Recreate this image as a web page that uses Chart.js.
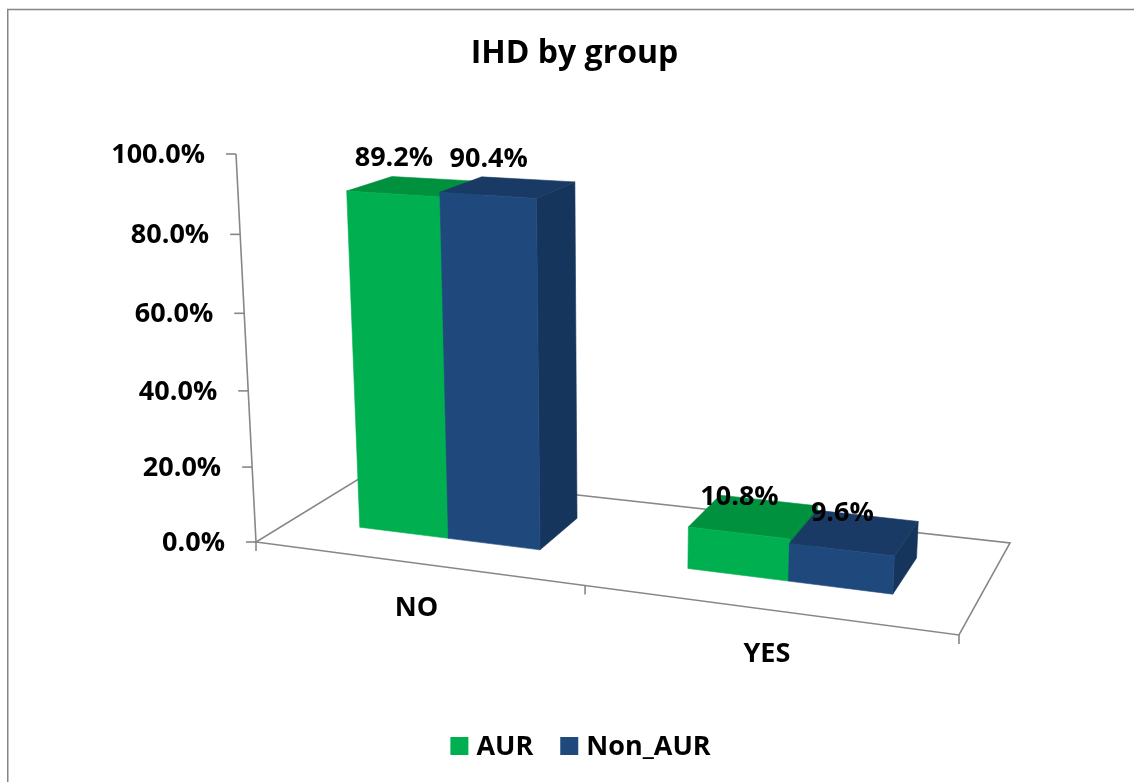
<!DOCTYPE html>
<html>
<head>
<meta charset="utf-8">
<title>IHD by group</title>
<script src="https://cdn.jsdelivr.net/npm/chart.js@4.4.1/dist/chart.umd.min.js"></script>
<style>
  html, body { margin: 0; padding: 0; background: #ffffff; }
  canvas { display: block; }
</style>
</head>
<body>
<canvas id="chart" width="1134" height="782"></canvas>
<script>
// ---- data ----
const categories = ['NO', 'YES'];
const seriesNames = ['AUR', 'Non_AUR'];
const aurValues = [89.2, 10.8];
const nonAurValues = [90.4, 9.6];
const valueTicks = [0, 20, 40, 60, 80, 100];

const FONT = '"Open Sans", Lato, "DejaVu Sans", sans-serif';
const WEIGHT = 'bold';
const LABEL_SIZE = 27;
const LINE = '#878787';

// ---- 3D view: floor outline, vertical edge vectors, perspective warps ----
const view = {
  floor: { f0: [256, 542], f1: [959, 635], b0: [370, 472], b1: [1010, 543] },
  up:    { f0: [-20, -388], f1: [20.4, -432], b0: [-15.9, -347], b1: [24.5, -391] },
  warpX: -0.12,
  warpY: -0.043,
  depth: [0.33, 0.735]
};

const faceColors = {
  AUR:     { front: '#00B050', top: '#00913F', side: '#008A3C' },
  Non_AUR: { front: '#1F497D', top: '#193A64', side: '#16355C' }
};

function bilerp(c, u, w, i) {
  const front = c.f0[i] + (c.f1[i] - c.f0[i]) * u;
  const back = c.b0[i] + (c.b1[i] - c.b0[i]) * u;
  return front + (back - front) * w;
}

// x, y, z are fractions of the category span, value range and floor depth
function project(x, y, z) {
  const u = x * (1 + view.warpX) / (1 + view.warpX * x);
  const h = y * (1 + view.warpY) / (1 + view.warpY * y);
  return [
    bilerp(view.floor, u, z, 0) + h * bilerp(view.up, u, z, 0),
    bilerp(view.floor, u, z, 1) + h * bilerp(view.up, u, z, 1)
  ];
}

function fillPoly(ctx, pts, color) {
  ctx.beginPath();
  ctx.moveTo(pts[0][0], pts[0][1]);
  for (let i = 1; i < pts.length; i++) ctx.lineTo(pts[i][0], pts[i][1]);
  ctx.closePath();
  ctx.fillStyle = color;
  ctx.fill();
  ctx.strokeStyle = color;
  ctx.lineWidth = 0.6;
  ctx.stroke();
}

function line(ctx, a, b) {
  ctx.beginPath();
  ctx.moveTo(a[0], a[1]);
  ctx.lineTo(b[0], b[1]);
  ctx.stroke();
}

const pct = v => v.toFixed(1) + '%';

const columns3d = {
  id: 'columns3d',
  beforeDatasetsDraw(chart) {
    const ctx = chart.ctx;
    const ca = chart.chartArea;
    const xs = chart.scales.x;
    const ys = chart.scales.y;
    const nx = px => (px - ca.left) / ca.width;
    const ny = py => (ca.bottom - py) / ca.height;
    const [z0, z1] = view.depth;

    ctx.save();

    // outer chart border
    ctx.strokeStyle = '#858585';
    ctx.lineWidth = 1.5;
    ctx.strokeRect(7.75, 9.5, 1400, 1000);

    // floor outline
    ctx.strokeStyle = LINE;
    ctx.lineWidth = 1.6;
    const fl = [project(0, 0, 0), project(1, 0, 0), project(1, 0, 1), project(0, 0, 1)];
    ctx.beginPath();
    ctx.moveTo(fl[0][0], fl[0][1]);
    fl.slice(1).forEach(p => ctx.lineTo(p[0], p[1]));
    ctx.closePath();
    ctx.stroke();

    // value axis with tick marks and labels
    const yTop = ny(ys.getPixelForValue(ys.max));
    line(ctx, project(0, 0, 0), project(0, yTop, 0));
    ctx.font = WEIGHT + ' ' + LABEL_SIZE + 'px ' + FONT;
    ctx.fillStyle = '#000';
    ctx.textAlign = 'right';
    ctx.textBaseline = 'middle';
    valueTicks.forEach(v => {
      const p = project(0, ny(ys.getPixelForValue(v)), 0);
      line(ctx, [p[0] - 10, p[1]], p);
      ctx.fillText(pct(v), p[0] - 31, p[1] + 1);
    });

    // category boundary ticks on the front floor edge
    for (let i = 0; i <= categories.length; i++) {
      const p = project(nx(xs.getPixelForValue(i - 0.5)), 0, 0);
      line(ctx, p, [p[0], p[1] + 9]);
    }

    // category labels
    ctx.textAlign = 'center';
    categories.forEach((c, i) => {
      const p = project(nx(xs.getPixelForValue(i)), 0, 0);
      ctx.fillText(c, p[0] + 1, p[1] + 45);
    });

    // columns, drawn left to right so nearer faces cover hidden ones
    const boxes = [];
    categories.forEach((c, i) => {
      chart.data.datasets.forEach((ds, d) => {
        const el = chart.getDatasetMeta(d).data[i];
        const p = el.getProps(['x', 'y', 'base', 'width'], true);
        const xa = nx(p.x - p.width / 2), xb = nx(p.x + p.width / 2);
        const ya = ny(p.base), yb = ny(p.y);
        const col = faceColors[ds.label];
        fillPoly(ctx, [project(xb, ya, z0), project(xb, ya, z1), project(xb, yb, z1), project(xb, yb, z0)], col.side);
        fillPoly(ctx, [project(xa, yb, z0), project(xb, yb, z0), project(xb, yb, z1), project(xa, yb, z1)], col.top);
        fillPoly(ctx, [project(xa, ya, z0), project(xb, ya, z0), project(xb, yb, z0), project(xa, yb, z0)], col.front);
        boxes.push({ x: nx(p.x), y: yb, value: ds.data[i] });
      });
    });

    // value labels above each column
    ctx.fillStyle = '#000';
    ctx.textAlign = 'center';
    boxes.forEach(b => {
      const p = project(b.x, b.y, z0);
      ctx.fillText(pct(b.value), p[0] + 1, p[1] - 36);
    });

    // legend
    const box = 18, gap = 8, spacing = 27;
    const items = chart.data.datasets.map(ds => ({ text: ds.label, color: ds.backgroundColor, w: ctx.measureText(ds.label).width }));
    let total = items.reduce((s, it) => s + box + gap + it.w, 0) + spacing * (items.length - 1);
    let lx = 580.5 - total / 2;
    const ly = 746;
    ctx.textAlign = 'left';
    items.forEach(it => {
      ctx.fillStyle = it.color;
      ctx.fillRect(lx, ly - box / 2, box, box);
      ctx.fillStyle = '#000';
      ctx.fillText(it.text, lx + box + gap, ly + 1);
      lx += box + gap + it.w + spacing;
    });

    ctx.restore();
    return false;
  }
};

new Chart(document.getElementById('chart'), {
  type: 'bar',
  data: {
    labels: categories,
    datasets: [
      { label: seriesNames[0], data: aurValues, backgroundColor: faceColors.AUR.front },
      { label: seriesNames[1], data: nonAurValues, backgroundColor: faceColors.Non_AUR.front }
    ]
  },
  options: {
    responsive: false,
    animation: false,
    devicePixelRatio: 1,
    categoryPercentage: 0.565,
    barPercentage: 1,
    layout: { padding: { left: 15, top: 35, right: 0, bottom: 0 } },
    scales: {
      x: { display: false },
      y: { display: false, min: 0, max: 100, ticks: { stepSize: 20 } }
    },
    plugins: {
      legend: { display: false },
      tooltip: { enabled: false },
      title: {
        display: true,
        text: 'IHD by group',
        color: '#000',
        font: { family: FONT, size: 32, weight: WEIGHT },
        padding: { top: 0, bottom: 0 }
      }
    }
  },
  plugins: [columns3d]
});
</script>
</body>
</html>
